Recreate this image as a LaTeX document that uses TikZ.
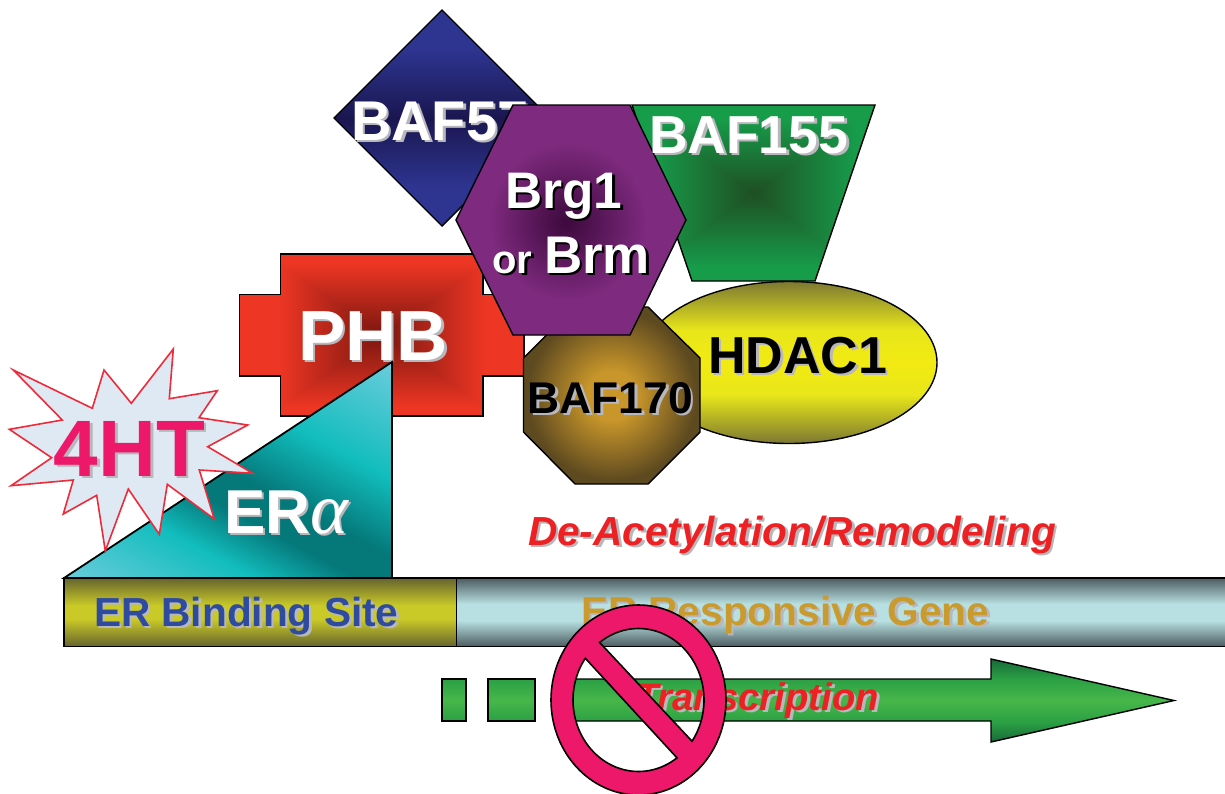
\documentclass[tikz,border=0pt]{standalone}
\usepackage{fontspec}
\setmainfont{Liberation Sans}
\newfontfamily\lserif{Liberation Serif}
\definecolor{shgray}{HTML}{B8B8BC}
\definecolor{pinkc}{HTML}{ED1869}
\definecolor{redt}{HTML}{ED2024}
\definecolor{bluet}{HTML}{2E4BA0}
\definecolor{goldt}{HTML}{C99A2E}
\definecolor{starfill}{HTML}{DEE9F4}
\definecolor{starline}{HTML}{EE2B3B}
\definecolor{dkA}{HTML}{2E3590}\definecolor{dkB}{HTML}{1A1650}
\definecolor{ybA}{HTML}{66642E}\definecolor{ybB}{HTML}{C9C928}
\definecolor{tbA}{HTML}{4C5C60}\definecolor{tbB}{HTML}{B8E0E2}
\definecolor{elA}{HTML}{7C7832}\definecolor{elB}{HTML}{E8E61A}\definecolor{elC}{HTML}{F2EA12}
\definecolor{arA}{HTML}{176A38}\definecolor{arB}{HTML}{2BA044}\definecolor{arC}{HTML}{47B749}
\definecolor{hxA}{HTML}{3E0A3E}\definecolor{hxB}{HTML}{7E2A7E}
\definecolor{ocA}{HTML}{C8962A}\definecolor{ocB}{HTML}{5E4A20}
\definecolor{trA}{HTML}{6ACCDC}\definecolor{trB}{HTML}{12BDBD}\definecolor{trC}{HTML}{05787A}
% the bounding box of a shaded path covers the stretch from 25bp to 75bp of a shading
\pgfdeclareverticalshading{diaS}{100bp}{color(0bp)=(dkA);color(34bp)=(dkA);color(50bp)=(dkB);color(66bp)=(dkA);color(100bp)=(dkA)}
\pgfdeclareverticalshading{ybS}{100bp}{color(0bp)=(ybA);color(25bp)=(ybA);color(45bp)=(ybB);color(55bp)=(ybB);color(75bp)=(ybA);color(100bp)=(ybA)}
\pgfdeclareverticalshading{tbS}{100bp}{color(0bp)=(tbA);color(25bp)=(tbA);color(44bp)=(tbB);color(56bp)=(tbB);color(75bp)=(tbA);color(100bp)=(tbA)}
\pgfdeclareverticalshading{elS}{100bp}{color(0bp)=(elA);color(25bp)=(elA);color(40bp)=(elB);color(50bp)=(elC);color(60bp)=(elB);color(75bp)=(elA);color(100bp)=(elA)}
\pgfdeclareverticalshading{arS}{100bp}{color(0bp)=(arA);color(25bp)=(arA);color(37bp)=(arB);color(50bp)=(arC);color(63bp)=(arB);color(75bp)=(arA);color(100bp)=(arA)}
\pgfdeclareverticalshading{dashS}{100bp}{color(0bp)=(arB);color(25bp)=(arB);color(50bp)=(arC);color(75bp)=(arB);color(100bp)=(arB)}
\pgfdeclareverticalshading{trS}{100bp}{color(0bp)=(trA);color(25bp)=(trA);color(38bp)=(trB);color(45bp)=(trC);color(50bp)=(trC);color(60bp)=(trB);color(75bp)=(trA);color(100bp)=(trA)}
\pgfdeclareradialshading{hexS}{\pgfpoint{-1bp}{-0.5bp}}{color(0bp)=(hxA);color(3bp)=(hxA!85!hxB);color(17bp)=(hxB);color(50bp)=(hxB)}
\pgfdeclareradialshading{octS}{\pgfpoint{0bp}{0bp}}{color(0bp)=(ocA);color(7bp)=(ocA);color(24bp)=(ocB);color(50bp)=(ocB)}
\pgfdeclarefunctionalshading{greenS}{\pgfpoint{-50bp}{-50bp}}{\pgfpoint{50bp}{50bp}}{}{
 abs 21 div exch abs 21 div 2 copy lt {exch} if pop dup 1 gt {pop 1} if
 dup -0.03 mul 0.12 add exch dup 0.30 mul 0.31 add exch 0.15 mul 0.14 add}
\pgfdeclarefunctionalshading{redS}{\pgfpoint{-50bp}{-50bp}}{\pgfpoint{50bp}{50bp}}{}{
 abs 22 div exch abs 18 div 2 copy lt {exch} if pop dup 1 gt {pop 1} if
 dup 0.45 mul 0.48 add exch dup 0.12 mul 0.09 add exch 0.08 mul 0.06 add}
\newcommand\shtxt[3]{\leavevmode\rlap{\kern1.3pt\raisebox{-1.3pt}{\color{#2}#3}}{\color{#1}#3}}
\newcommand\fsz[1]{\fontsize{#1}{#1}\selectfont}
\tikzset{
  lbl/.style={inner sep=0pt,outer sep=0pt,anchor=base west,font=\bfseries},
  edge/.style={draw=black,line width=0.7pt,line join=miter},
}
\begin{document}
\begin{tikzpicture}[x=0.5pt,y=-0.5pt]
\clip (0,0) rectangle (1225,793);
\fill[white] (0,0) rectangle (1225,793);
% diamond
\shadedraw[shading=diaS,edge] (442,10) -- (550,118) -- (442,226) -- (334,118) -- cycle;
\node[lbl] (baf57) at (351,140) {\shtxt{white}{shgray}{\fsz{28}BAF57}};
% trapezoid
\shadedraw[shading=greenS,edge] (632,105) -- (875,105) -- (815,281) -- (692,281) -- cycle;
% PHB cross
\shadedraw[shading=redS,edge] (280.5,254) -- (483,254) -- (483,294.5) -- (524,294.5) -- (524,376) -- (483,376) -- (483,416) -- (280.5,416) -- (280.5,376) -- (239.5,376) -- (239.5,294.5) -- (280.5,294.5) -- cycle;
\node[lbl] (phb) at (298,360) {\shtxt{white}{shgray}{\fsz{35.5}PHB}};
% ellipse
\shadedraw[shading=elS,edge] (789,362.5) ellipse [x radius=148, y radius=81];
% octagon
\shadedraw[shading=octS,edge] (575,307) -- (648,307) -- (700,358) -- (700,432) -- (648,484) -- (575,484) -- (523.5,432) -- (523.5,358) -- cycle;
% hexagon
\shadedraw[shading=hexS,edge] (513,105) -- (630,105) -- (686,220) -- (630,335) -- (513,335) -- (456,220) -- cycle;
\node[lbl] (baf155) at (649,153) {\shtxt{white}{shgray}{\fsz{26.75}BAF155}};
\node[lbl] (brg) at (505,208) {\shtxt{white}{black}{\fsz{25.7}Brg1}};
\node[lbl] (brm) at (492,273) {\shtxt{white}{black}{\fsz{20}or\kern6pt\fsz{26.5}Brm}};
\node[lbl] (hdac) at (708,373) {\shtxt{black}{shgray}{\fsz{26}HDAC1}};
\node[lbl] (baf170) at (527.5,413) {\shtxt{black}{shgray}{\fsz{22.2}BAF170}};
% triangle
\begin{scope}
\clip (64,578) -- (392,362) -- (392,578) -- cycle;
\shade[shading=trS,shading angle=-28] (56,298) rectangle (400,642);
\end{scope}
\draw[edge,line width=0.9pt] (64,578) -- (392,362) -- (392,578) -- cycle;
\node[lbl] (era) at (224,533) {\shtxt{white}{shgray}{\fsz{31}ER{\lserif\fsz{36}\mdseries\itshape α}}};
% star
\draw[draw=starline,fill=starfill,line width=0.8pt,line join=miter] (13.3,370) -- (92.3,408.3) -- (104,370) -- (131.3,403.3) -- (173.3,349) -- (169.3,398.7) -- (217.3,390.7) -- (199,417.7) -- (247.7,425) -- (207.7,446.7) -- (252.7,473.3) -- (199.3,470) -- (214.3,519) -- (167.3,484.3) -- (159.3,534.3) -- (128.3,489) -- (105.3,551) -- (96.7,495.3) -- (63.3,514) -- (73.3,480) -- (11,485.7) -- (51.7,457.7) -- (9.3,429.3) -- (62.3,420) -- cycle;
\node[lbl] (ht) at (54,476) {\shtxt{pinkc}{shgray}{\fsz{40}4HT}};
\node[lbl] (deac) at (528,545) {\shtxt{redt}{shgray}{\fsz{20.3}\itshape De-Acetylation/Remodeling}};
% gene bar
\shadedraw[shading=ybS,edge] (64,578) rectangle (456.5,646.5);
\shadedraw[shading=tbS,edge] (456.5,578) rectangle (1235,646.5);
\node[lbl] (site) at (94,626) {\shtxt{bluet}{shgray}{\fsz{20.3}ER Binding Site}};
\node[lbl] (gene) at (581,625) {\shtxt{goldt}{shgray}{\fsz{20.3}ER Responsive Gene}};
% arrow
\shadedraw[shading=dashS,edge] (442,679) rectangle (466,721);
\shadedraw[shading=dashS,edge] (488,679) rectangle (535,721);
\shadedraw[shading=arS,edge] (556,679) -- (991,679) -- (991,659) -- (1174,700.5) -- (991,742) -- (991,721) -- (556,721) -- cycle;
\node[lbl] (trans) at (635,710) {\shtxt{redt}{shgray}{\fsz{19.15}\itshape Transcription}};
% prohibition sign
\draw[edge,fill=pinkc,even odd rule,line width=0.8pt]
  (638.5,700) ellipse [x radius=87.5, y radius=95]
  plot[domain=-126.4:35.2,samples=50,variable=\t] ({638.5+65.5*cos(\t)},{700+71.5*sin(\t)}) -- cycle
  plot[domain=54:215.7,samples=50,variable=\t] ({638.5+65.5*cos(\t)},{700+71.5*sin(\t)}) -- cycle;
\end{tikzpicture}
\end{document}
